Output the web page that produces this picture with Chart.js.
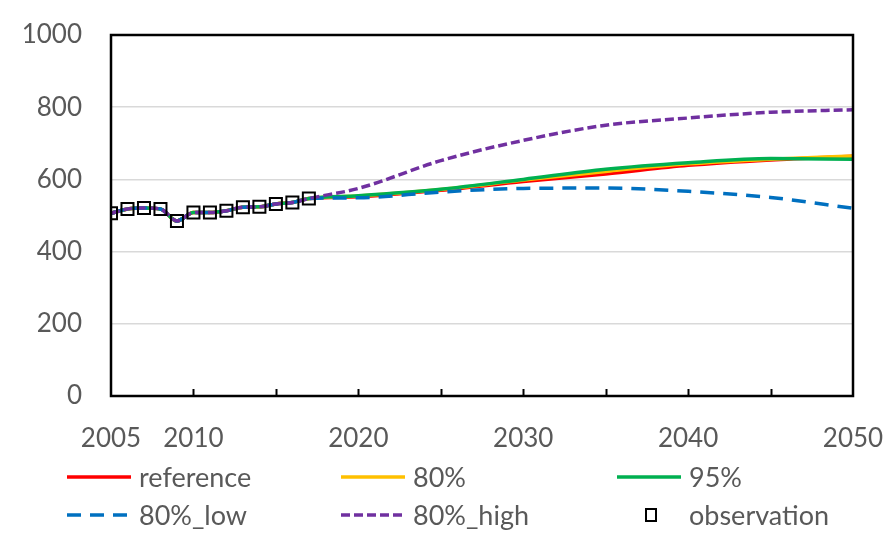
<!DOCTYPE html>
<html>
<head>
<meta charset="utf-8">
<script src="https://cdn.jsdelivr.net/npm/chart.js@4.4.1/dist/chart.umd.min.js"></script>
<style>
  html, body { margin: 0; padding: 0; background: #ffffff; }
  #wrap { width: 888px; height: 545px; position: relative; }
</style>
</head>
<body>
<div id="wrap"><canvas id="c"></canvas></div>
<script>
// Years shared by the projection series
const years = [2005, 2006, 2007, 2008, 2009, 2010, 2011, 2012, 2013, 2014, 2015, 2016, 2017,
               2020, 2025, 2030, 2035, 2040, 2045, 2050];

// Projection series
const reference = [506, 518, 521, 518, 485, 508, 508, 513, 523, 524, 532, 536, 547,
                   552, 570, 594, 615, 639, 654, 664];
const p80       = [506, 518, 521, 518, 485, 508, 508, 513, 523, 524, 532, 536, 547,
                   554, 572, 598, 622, 643, 656, 665];
const p95       = [506, 518, 521, 518, 485, 508, 508, 513, 523, 524, 532, 536, 547,
                   555, 573, 600, 628, 646, 658, 656];
const p80Low    = [506, 518, 521, 518, 485, 508, 508, 513, 523, 524, 532, 536, 547,
                   549, 565, 575, 576, 567, 550, 520];
const p80High   = [506, 518, 521, 518, 485, 508, 508, 513, 523, 524, 532, 536, 547,
                   575, 652, 708, 750, 770, 786, 793];

// Observed values
const obsYears = [2005, 2006, 2007, 2008, 2009, 2010, 2011, 2012, 2013, 2014, 2015, 2016, 2017];
const observation = [506, 518, 521, 518, 485, 508, 508, 513, 523, 524, 532, 536, 547];

// Axis labels
const xLabelYears = [2005, 2010, 2020, 2030, 2040, 2050];
const yTicks = [0, 200, 400, 600, 800, 1000];

const FONT = 'Lato, "Open Sans", sans-serif';
const TEXT = '#595959';

const pts = (xs, ys) => xs.map((x, i) => ({ x: x, y: ys[i] }));

function lineSet(label, data, color, dash, order) {
  return {
    label: label,
    data: pts(years, data),
    borderColor: color,
    backgroundColor: color,
    borderWidth: 3.5,
    borderDash: dash,
    pointRadius: 0,
    fill: false,
    cubicInterpolationMode: 'monotone',
    order: order
  };
}

const datasets = [
  lineSet('reference', reference, '#ff0000', [], 6),
  lineSet('80%', p80, '#ffc000', [], 5),
  lineSet('95%', p95, '#00b050', [], 4),
  lineSet('80%_low', p80Low, '#0070c0', [14, 9], 3),
  lineSet('80%_high', p80High, '#7030a0', [9, 4], 2),
  {
    label: 'observation',
    data: pts(obsYears, observation),
    showLine: false,
    pointStyle: 'rect',
    pointRadius: 8.5,
    pointBorderWidth: 2,
    pointBorderColor: '#000000',
    pointBackgroundColor: 'rgba(0,0,0,0)',
    borderColor: '#000000',
    order: 1
  }
];

// Plot frame and inward tick marks on the year axis
const framePlugin = {
  id: 'frame',
  afterDatasetsDraw(chart) {
    const { ctx, chartArea: a, scales } = chart;
    ctx.save();
    ctx.strokeStyle = '#000000';
    ctx.lineWidth = 2;
    ctx.lineCap = 'butt';
    for (let yr = 2010; yr < 2050; yr += 5) {
      const x = Math.round(scales.x.getPixelForValue(yr)) + 0.5;
      ctx.beginPath();
      ctx.moveTo(x, a.bottom);
      ctx.lineTo(x, a.bottom - 7);
      ctx.stroke();
    }
    ctx.lineWidth = 2.5;
    ctx.strokeRect(a.left, a.top, a.right - a.left, a.bottom - a.top);
    ctx.restore();
  }
};

// Two-row legend below the axis
const legendPlugin = {
  id: 'gridLegend',
  afterDraw(chart) {
    const { ctx } = chart;
    const cols = [67, 341, 617];
    const rows = [477, 515];
    const lineLen = 64;
    ctx.save();
    ctx.font = '27px ' + FONT;
    ctx.textBaseline = 'middle';
    ctx.textAlign = 'left';
    chart.data.datasets.forEach((ds, i) => {
      const x0 = cols[i % 3];
      const y = rows[Math.floor(i / 3)];
      if (ds.pointStyle === 'rect') {
        const cx = x0 + lineLen / 2 + 2;
        ctx.strokeStyle = '#000000';
        ctx.lineWidth = 2;
        ctx.strokeRect(cx - 5, y - 6, 10, 12);
      } else {
        ctx.strokeStyle = ds.borderColor;
        ctx.lineWidth = 3.5;
        ctx.setLineDash(ds.borderDash || []);
        ctx.beginPath();
        ctx.moveTo(x0, y);
        ctx.lineTo(x0 + lineLen, y);
        ctx.stroke();
        ctx.setLineDash([]);
      }
      ctx.fillStyle = TEXT;
      ctx.fillText(ds.label, x0 + lineLen + 8, y + 1);
    });
    ctx.restore();
  }
};

new Chart(document.getElementById('c'), {
  type: 'line',
  data: { datasets: datasets },
  options: {
    responsive: true,
    maintainAspectRatio: false,
    animation: false,
    layout: { padding: { left: 0, top: 35, right: 35, bottom: 0 } },
    plugins: { legend: { display: false }, tooltip: { enabled: false } },
    scales: {
      x: {
        type: 'linear',
        min: 2005,
        max: 2050,
        afterFit(scale) {
          scale.height = 545 - 396;
          scale.paddingLeft = 0;
          scale.paddingRight = 0;
        },
        afterBuildTicks(scale) {
          scale.ticks = xLabelYears.map(v => ({ value: v }));
        },
        ticks: {
          autoSkip: false,
          maxRotation: 0,
          padding: 27,
          color: TEXT,
          font: { family: FONT, size: 26 },
          callback: v => String(v)
        },
        grid: { display: false, drawTicks: false },
        border: { display: false }
      },
      y: {
        min: 0,
        max: 1000,
        afterFit(scale) {
          scale.width = 111;
          scale.paddingTop = 0;
          scale.paddingBottom = 0;
        },
        afterBuildTicks(scale) {
          scale.ticks = yTicks.map(v => ({ value: v }));
        },
        ticks: {
          padding: 29,
          color: TEXT,
          font: { family: FONT, size: 26 },
          callback: v => String(v)
        },
        grid: { color: '#d9d9d9', lineWidth: 1.5, drawTicks: false },
        border: { display: false }
      }
    }
  },
  plugins: [framePlugin, legendPlugin]
});
</script>
</body>
</html>
